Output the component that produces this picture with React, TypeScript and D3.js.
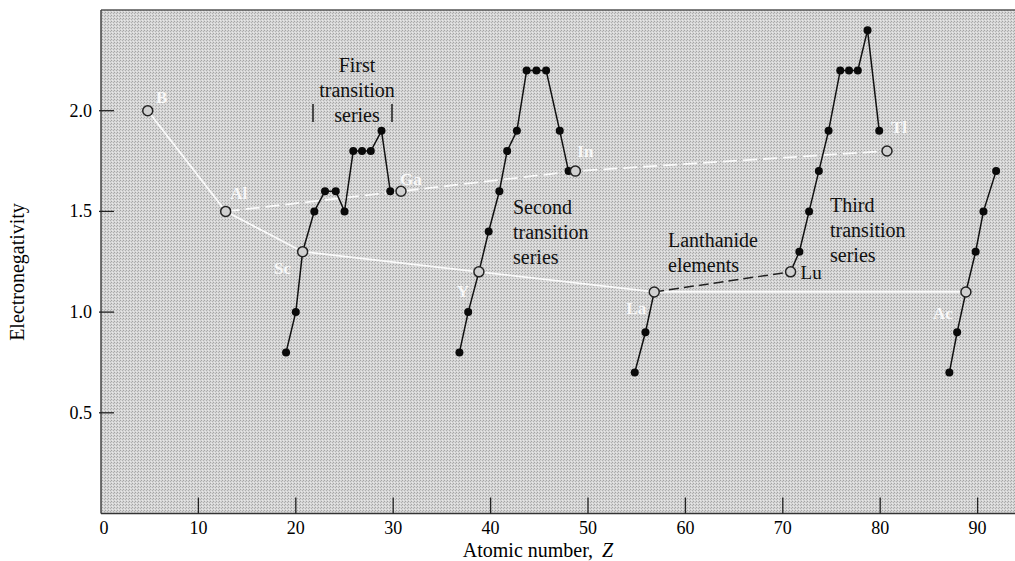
import React from 'react';
import * as d3 from 'd3';

// values (atomic number Z, electronegativity)
const firstZ = [19.0, 20.0, 20.7, 21.9, 23.0, 24.1, 25.0, 25.9, 26.8, 27.7, 28.8, 29.7];
const firstEN = [0.8, 1.0, 1.3, 1.5, 1.6, 1.6, 1.5, 1.8, 1.8, 1.8, 1.9, 1.6];
const secondZ = [36.8, 37.7, 38.8, 39.8, 40.9, 41.7, 42.7, 43.7, 44.7, 45.7, 47.1, 48.0];
const secondEN = [0.8, 1.0, 1.2, 1.4, 1.6, 1.8, 1.9, 2.2, 2.2, 2.2, 1.9, 1.7];
const lanthZ = [54.8, 55.9, 56.8];
const lanthEN = [0.7, 0.9, 1.1];
const thirdZ = [70.8, 71.7, 72.7, 73.7, 74.7, 75.9, 76.8, 77.7, 78.7, 79.9];
const thirdEN = [1.2, 1.3, 1.5, 1.7, 1.9, 2.2, 2.2, 2.2, 2.4, 1.9];
const actZ = [87.1, 87.9, 88.8, 89.8, 90.6, 91.9];
const actEN = [0.7, 0.9, 1.1, 1.3, 1.5, 1.7];

// open circles, white connecting lines
const group3Sym = ['B', 'Al', 'Sc', 'Y', 'La', 'Ac'];
const group3Z = [4.8, 12.8, 20.7, 38.8, 56.8, 88.8];
const group3EN = [2.0, 1.5, 1.3, 1.2, 1.1, 1.1];
const group13Sym = ['Al', 'Ga', 'In', 'Tl'];
const group13Z = [12.8, 30.8, 48.7, 80.7];
const group13EN = [1.5, 1.6, 1.7, 1.8];
const luZ = 70.8;
const luEN = 1.2;

const xTicks = [0, 10, 20, 30, 40, 50, 60, 70, 80, 90];
const yTicks = [0.5, 1.0, 1.5, 2.0];

const W = 1015;
const H = 561;
const left = 101;
const top = 10;
const bottom = 513.5;

const x = d3.scaleLinear().domain([0, 93.84]).range([left, W]);
const y = d3.scaleLinear().domain([0, 2.5]).range([bottom, top]);

const pts = (zs: number[], ens: number[]) => zs.map((z, i) => [z, ens[i]] as [number, number]);
const line = d3.line<[number, number]>().x(d => x(d[0])).y(d => y(d[1]));

const blackSeries = [
  pts(firstZ, firstEN),
  pts(secondZ, secondEN),
  pts(lanthZ, lanthEN),
  pts(thirdZ, thirdEN),
  pts(actZ, actEN),
];

const openSet = new Set([...group3Z, ...group13Z, luZ]);

// label offsets (px) for the white symbols
const whiteOffsets: Record<string, [number, number]> = {
  B: [14, -8], Al: [13, -12], Sc: [-20, 22], Y: [-16, 25], La: [-18, 22],
  Ac: [-23, 27], Ga: [10, -6], In: [10, -14], Tl: [12, -18],
};

const serif = '"Liberation Serif", "DejaVu Serif", serif';

export default function App() {
  const whiteLabels = [
    ...group3Sym.map((s, i) => ({ s, z: group3Z[i], en: group3EN[i] })),
    ...group13Sym.slice(1).map((s, i) => ({ s, z: group13Z[i + 1], en: group13EN[i + 1] })),
  ];

  return (
    <svg width={W} height={H} style={{ position: 'absolute', left: 0, top: 0, background: '#fff' }}
      fontFamily={serif}>
      <defs>
        <pattern id="stipple" width="3" height="3" patternUnits="userSpaceOnUse">
          <rect width="3" height="3" fill="#d6d6d6" />
          <rect x="0" y="0" width="1" height="1" fill="#a4a4a4" />
          <rect x="2" y="1" width="1" height="1" fill="#b0b0b0" />
          <rect x="1" y="2" width="1" height="1" fill="#e8e8e8" />
        </pattern>
      </defs>

      <rect x={left} y={top} width={W - left} height={bottom - top} fill="url(#stipple)" />
      <line x1={left} x2={W} y1={top} y2={top} stroke="#555" strokeWidth={1.5} />
      <line x1={left} x2={left} y1={top} y2={bottom} stroke="#444" strokeWidth={1.5} />
      <line x1={left} x2={W} y1={bottom} y2={bottom} stroke="#333" strokeWidth={1.5} />

      {xTicks.map(t => (
        <g key={'x' + t}>
          {t > 0 && <line x1={x(t)} x2={x(t)} y1={bottom} y2={bottom - 16} stroke="#222" strokeWidth={1.3} />}
          <text x={x(t) + (t === 0 ? 3 : 0)} y={bottom + 20} fontSize={18} textAnchor="middle">{t}</text>
        </g>
      ))}
      {yTicks.map(t => (
        <g key={'y' + t}>
          <line x1={left - 2} x2={left + 13} y1={y(t)} y2={y(t)} stroke="#222" strokeWidth={1.3} />
          <text x={left - 9} y={y(t) + 6} fontSize={18} textAnchor="end">{t.toFixed(1)}</text>
        </g>
      ))}
      <text x={538} y={557} fontSize={20} textAnchor="middle">
        Atomic number,<tspan dx={9} fontStyle="italic">Z</tspan>
      </text>
      <text transform={`translate(24,272) rotate(-90)`} fontSize={20} textAnchor="middle">Electronegativity</text>

      {/* white connecting lines */}
      <path d={line(pts(group3Z, group3EN)) ?? ''} fill="none" stroke="#fafafa" strokeWidth={1.8} />
      <path d={line(pts(group13Z, group13EN)) ?? ''} fill="none" stroke="#fafafa" strokeWidth={1.8}
        strokeDasharray="14,6" />
      <path d={line([[56.8, 1.1], [luZ, luEN]]) ?? ''} fill="none" stroke="#222" strokeWidth={1.5}
        strokeDasharray="10,5" />

      {blackSeries.map((s, i) => (
        <path key={'s' + i} d={line(s) ?? ''} fill="none" stroke="#111" strokeWidth={1.5} />
      ))}
      {blackSeries.flat().filter(d => !openSet.has(d[0])).map((d, i) => (
        <circle key={'f' + i} cx={x(d[0])} cy={y(d[1])} r={4} fill="#0a0a0a" />
      ))}
      {[...pts(group3Z, group3EN), ...pts(group13Z.slice(1), group13EN.slice(1)), [luZ, luEN] as [number, number]]
        .map((d, i) => (
          <circle key={'o' + i} cx={x(d[0])} cy={y(d[1])} r={5} fill="#d0d0d0" stroke="#222" strokeWidth={1.5} />
        ))}

      {whiteLabels.map(l => (
        <text key={'w' + l.s} x={x(l.z) + whiteOffsets[l.s][0]} y={y(l.en) + whiteOffsets[l.s][1]}
          fontSize={17} fontWeight="bold" fill="#f8f8f8" textAnchor="middle">{l.s}</text>
      ))}

      <text x={x(luZ) + 10} y={y(luEN) + 7} fontSize={19} fill="#111">Lu</text>

      <g stroke="#111" strokeWidth={1.4}>
        <line x1={313} x2={313} y1={104} y2={122} />
        <line x1={392} x2={392} y1={104} y2={122} />
      </g>
      <g fontSize={20} fill="#111">
        <text x={357} y={72} textAnchor="middle">First</text>
        <text x={357} y={97} textAnchor="middle">transition</text>
        <text x={357} y={122} textAnchor="middle">series</text>
        <text x={513} y={214}>Second</text>
        <text x={513} y={239}>transition</text>
        <text x={513} y={264}>series</text>
        <text x={668} y={247}>Lanthanide</text>
        <text x={668} y={272}>elements</text>
        <text x={830} y={212}>Third</text>
        <text x={830} y={237}>transition</text>
        <text x={830} y={262}>series</text>
      </g>
    </svg>
  );
}
